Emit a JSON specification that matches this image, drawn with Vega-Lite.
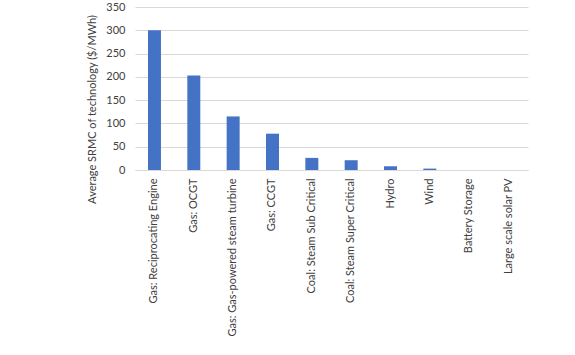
{
  "$schema": "https://vega.github.io/schema/vega-lite/v6.json",
  "autosize": {"type": "none"},
  "padding": {"left": 135, "top": 7, "right": 47, "bottom": 185},
  "width": 393,
  "height": 163,
  "background": "white",
  "config": {"view": {"stroke": null}, "font": "Lato"},
  "data": {"values": [
    {"tech": "Gas: Reciprocating Engine", "srmc": 300},
    {"tech": "Gas: OCGT", "srmc": 203},
    {"tech": "Gas: Gas-powered steam turbine", "srmc": 115},
    {"tech": "Gas: CCGT", "srmc": 78},
    {"tech": "Coal: Steam Sub Critical", "srmc": 26},
    {"tech": "Coal: Steam Super Critical", "srmc": 21},
    {"tech": "Hydro", "srmc": 8},
    {"tech": "Wind", "srmc": 3},
    {"tech": "Battery Storage", "srmc": 0},
    {"tech": "Large scale solar PV", "srmc": 0}
  ]},
  "mark": {"type": "bar", "color": "#4472C4"},
  "encoding": {
    "x": {
      "field": "tech", "type": "nominal", "sort": null,
      "scale": {"paddingInner": 0.67, "paddingOuter": 0.33},
      "axis": {"title": null, "labelAngle": -90, "ticks": false, "labelPadding": 8,
               "labelFontSize": 11, "labelColor": "#404040", "domainColor": "#d9d9d9",
               "labelLimit": 300}
    },
    "y": {
      "field": "srmc", "type": "quantitative",
      "scale": {"domain": [0, 350]},
      "axis": {"title": "Average SRMC of technology ($/MWh)", "values": [0,50,100,150,200,250,300,350],
               "domain": false, "ticks": false, "labelPadding": 10, "labelFontSize": 11,
               "labelColor": "#404040", "titleColor": "#404040", "titleFontSize": 11,
               "titleFontWeight": "normal", "titlePadding": 8, "titleY": 102, "gridColor": "#d9d9d9"}
    }
  }
}
